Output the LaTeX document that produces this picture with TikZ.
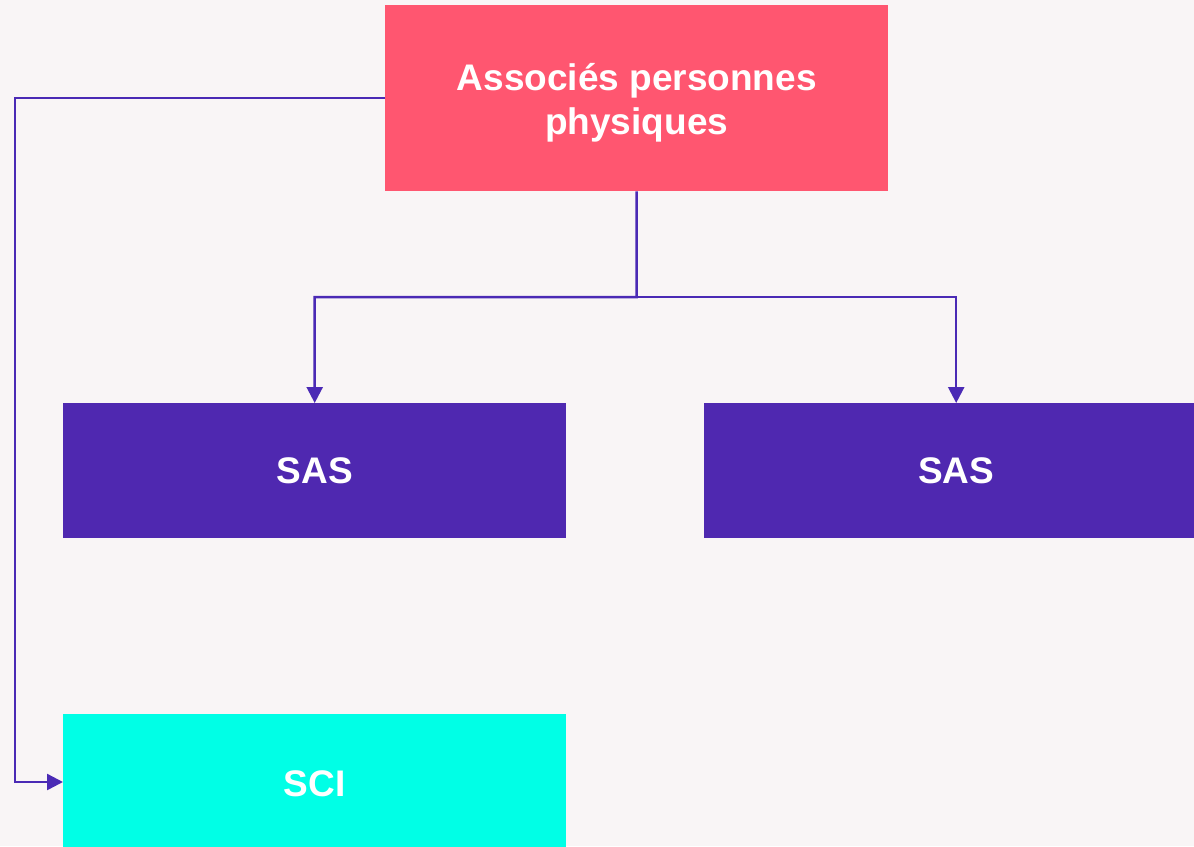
\documentclass[tikz,border=0pt]{standalone}
\usepackage{fontspec}
\setmainfont{Liberation Sans}
\usetikzlibrary{arrows.meta}
\definecolor{bg}{HTML}{F9F5F6}
\definecolor{pinkbox}{HTML}{FF5670}
\definecolor{purplebox}{HTML}{4F28B0}
\definecolor{cyanbox}{HTML}{00FFE6}
\definecolor{linec}{HTML}{4B2AB5}
\begin{document}
\begin{tikzpicture}[x=1pt,y=-1pt,
  boxtext/.style={text=white,font=\fontsize{37}{44}\selectfont\bfseries,align=center},
  box/.style={draw=none,minimum width=503pt,anchor=north west,inner sep=0pt,boxtext},
  conn/.style={draw=linec,line width=2.5pt,-{Triangle[length=16pt,width=16pt]}}]
\fill[bg] (0,0) rectangle (1194,846);
\useasboundingbox (0,0) rectangle (1194,846);
\node[box,fill=pinkbox,minimum height=186pt,
  label={[boxtext,yshift=-5pt]center:Associés personnes\\physiques}] (top) at (385,5) {};
\node[box,fill=purplebox,minimum height=135pt] (sas1) at (63,403) {SAS};
\node[box,fill=purplebox,minimum width=504pt,minimum height=135pt] (sas2) at (704,403) {SAS};
\node[box,fill=cyanbox,minimum height=140pt] (sci) at (63,714) {SCI};
\coordinate (j) at (636.5,297);
\coordinate (l) at (15,98);
\draw[conn] (top.south) -- (j) -| (sas1.north);
\draw[conn] (j) -| (sas2.north);
\draw[conn] (top.west |- l) -- (l) |- (sci.west |- 0,782);
\end{tikzpicture}
\end{document}
